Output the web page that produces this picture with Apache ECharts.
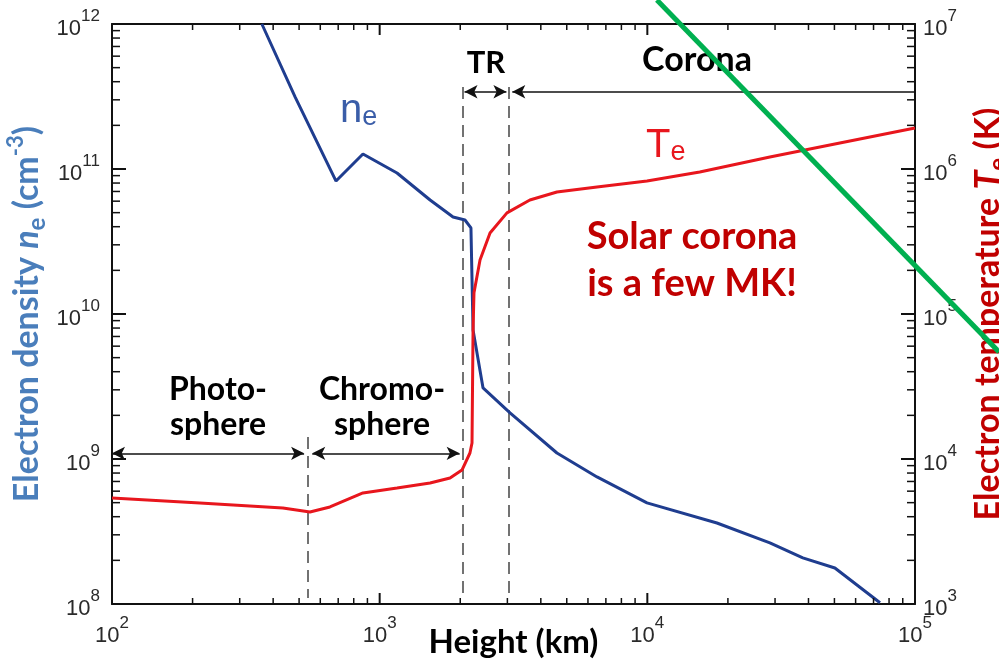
<!DOCTYPE html>
<html><head><meta charset="utf-8">
<script src="https://cdn.jsdelivr.net/npm/echarts@6/dist/echarts.min.js"></script>
<style>html,body{margin:0;padding:0;background:#fff;overflow:hidden}#c{width:999px;height:667px}</style>
</head><body><div id="c"></div>
<script>
// ---- data (height in km) ----
const heightNe  = [363, 483, 687, 866, 1161, 1543, 1880, 2083, 2193, 2233, 2433, 3069, 4595, 6486, 9970, 18200, 28700, 38100, 50200, 74000];
const densityNe = [1.0e12, 3.14e11, 8.26e10, 1.27e11, 9.38e10, 6.11e10, 4.67e10, 4.45e10, 3.92e10, 7.76e9, 3.09e9, 2.08e9, 1.10e9, 7.52e8, 4.98e8, 3.62e8, 2.64e8, 2.08e8, 1.77e8, 1.02e8];
const heightTe  = [100, 213, 435, 549, 652, 866, 1161, 1543, 1832, 2030, 2174, 2213, 2233, 2251, 2371, 2584, 2989, 3641, 4595, 6486, 9970, 15700, 28700, 52400, 100000];
const tempTe    = [5380, 4970, 4600, 4310, 4670, 5830, 6310, 6830, 7390, 8390, 11000, 12900, 77600, 1.40e5, 2.36e5, 3.62e5, 4.98e5, 6.11e5, 6.94e5, 7.52e5, 8.26e5, 9.53e5, 1.21e6, 1.51e6, 1.92e6];
// region boundaries (km) and their dashed-line extents (in n_e units)
const boundaryHeights = [540, 2050, 3040];
const boundaryTop     = [1.42e9, 3.68e11, 3.68e11];
const boundaryBottom  = 1.1e8;
// region arrows: [fromHeight, toHeight], level in n_e units
const photoArrow  = [100, 522];
const chromoArrow = [560, 1990];
const trArrow     = [2075, 2975];
const coronaArrow = [3130, 100000];
const lowArrowLevel  = 1.094e9;
const highArrowLevel = 3.41e11;
// green overlay stroke: two points on it (height, n_e); extended to the picture edges
const greenX = [13270, 100000];
const greenY = [1e12, 2.16e10];
// tick decades
const xDecades = [2, 3, 4, 5];
const yLeftDecades = [8, 9, 10, 11, 12];
const yRightDecades = [3, 4, 5, 6, 7];

const zip = (a, b) => a.map((v, i) => [v, b[i]]);
const TICKC = '#111';
const supLabel = v => '{b|10}{s|' + Math.round(Math.log10(v)) + '}';
const labelRich = {
  b: { fontSize: 22, fontFamily: 'Liberation Sans', color: '#2a2a2a', lineHeight: 32, verticalAlign: 'bottom' },
  s: { fontSize: 17, fontFamily: 'Liberation Sans', color: '#2a2a2a', lineHeight: 17, verticalAlign: 'top' }
};
function mainAxis(pos, min, max, label) {
  return {
    type: 'log', logBase: 10, min: min, max: max, position: pos,
    axisLine: { show: true, onZero: false, lineStyle: { color: TICKC, width: 2 } },
    axisTick: { show: false }, minorTick: { show: false },
    splitLine: { show: false }, minorSplitLine: { show: false },
    axisLabel: label ? Object.assign({ formatter: supLabel, rich: labelRich }, label) : { show: false },
    nameMoveOverlap: false
  };
}
const titleFont = { fontFamily: 'Lato', fontWeight: 'bold' };
function titleRich(color) {
  return {
    t:  Object.assign({ fontSize: 34, color: color, lineHeight: 44 }, titleFont),
    i:  Object.assign({ fontSize: 34, color: color, lineHeight: 44, fontStyle: 'italic' }, titleFont),
    sb: Object.assign({ fontSize: 24, color: color, lineHeight: 24, verticalAlign: 'bottom' }, titleFont),
    sp: Object.assign({ fontSize: 22, color: color, lineHeight: 22, verticalAlign: 'top' }, titleFont)
  };
}

const dashStyle = { color: '#444', width: 1.5, type: [12, 7] };
const arrowStyle = { color: '#111', width: 1.5, type: 'solid' };
const mlData = [];
boundaryHeights.forEach((h, i) => {
  mlData.push([{ coord: [h, boundaryTop[i]], symbol: 'none', lineStyle: dashStyle }, { coord: [h, boundaryBottom], symbol: 'none' }]);
});
function arrowItem(r, lvl, both) {
  return [{ coord: [r[0], lvl], symbol: 'arrow', symbolSize: [10, 13], lineStyle: arrowStyle },
          { coord: [r[1], lvl], symbol: both ? 'arrow' : 'none', symbolSize: [10, 13] }];
}
mlData.push(arrowItem(photoArrow, lowArrowLevel, true));
mlData.push(arrowItem(chromoArrow, lowArrowLevel, true));
mlData.push(arrowItem(trArrow, highArrowLevel, true));
mlData.push(arrowItem(coronaArrow, highArrowLevel, false));

const boldTxt = (text, x, y, size, color) => ({
  type: 'text', x: x, y: y, z: 50, silent: true,
  style: { text: text, fill: color || '#000', font: 'bold ' + size + 'px Lato', align: 'center', verticalAlign: 'middle' }
});
const subTxt = (main, sub, x, y, color) => ({
  type: 'text', x: x, y: y, z: 50, silent: true,
  style: { text: '{n|' + main + '}{e|' + sub + '}',
    rich: { n: { fontSize: 40, fontFamily: 'Liberation Sans', fill: color, color: color, lineHeight: 40, verticalAlign: 'top' },
            e: { fontSize: 27, fontFamily: 'Liberation Sans', fill: color, color: color, lineHeight: 27, verticalAlign: 'bottom' } },
    align: 'left', verticalAlign: 'bottom' }
});
const texts = [
  boldTxt('Photo-', 218, 390, 32),
  boldTxt('sphere', 218, 425, 32),
  boldTxt('Chromo-', 382, 390, 32),
  boldTxt('sphere', 382, 425, 32),
  boldTxt('TR', 486, 63, 31),
  boldTxt('Corona', 697, 60, 34),
  boldTxt('Solar corona', 692, 237, 38, '#c00000'),
  boldTxt('is a few MK!', 692, 284, 38, '#c00000'),
  subTxt('n', 'e', 340, 131, '#3a5da8'),
  subTxt('T', 'e', 646, 166, '#e8161d')
];

const chart = echarts.init(document.getElementById('c'), null, { renderer: 'canvas' });
chart.setOption({
  animation: false,
  backgroundColor: '#fff',
  grid: { left: 112, right: 84, top: 24, bottom: 63, containLabel: false, outerBoundsMode: 'none' },
  xAxis: [
    Object.assign(mainAxis('bottom', 100, 100000, { margin: 11 }), {
      name: 'Height (km)', nameLocation: 'middle', nameGap: 22,
      nameTextStyle: { fontFamily: 'Lato', fontWeight: 'bold', fontSize: 33, color: '#000' } }),
    mainAxis('top', 100, 100000, null)
  ],
  yAxis: [
    Object.assign(mainAxis('left', 1e8, 1e12, { margin: 12 }), {
      name: '{t|Electron density }{i|n}{sb|e}{t| (cm}{sp|-3}{t|)}', nameLocation: 'middle', nameRotate: 90, nameGap: 63,
      nameTextStyle: { rich: titleRich('#4a7ebb'), fontSize: 34, fontFamily: 'Lato', fontWeight: 'bold', color: '#4a7ebb' } }),
    Object.assign(mainAxis('right', 1e3, 1e7, { margin: 8 }), {
      name: '{t|Electron temperature }{i|T}{sb|e}{t| (K)}', nameLocation: 'middle', nameRotate: 90, nameGap: 51,
      nameTextStyle: { rich: titleRich('#c00000'), fontSize: 34, fontFamily: 'Lato', fontWeight: 'bold', color: '#c00000' } })
  ],
  series: [
    { name: 'n_e', type: 'line', xAxisIndex: 0, yAxisIndex: 0, data: zip(heightNe, densityNe),
      symbol: 'none', lineStyle: { color: '#1f3d8f', width: 3 }, itemStyle: { color: '#1f3d8f' }, z: 5,
      markLine: { silent: true, animation: false, label: { show: false }, emphasis: { disabled: true }, data: mlData } },
    { name: 'T_e', type: 'line', xAxisIndex: 0, yAxisIndex: 1, data: zip(heightTe, tempTe),
      symbol: 'none', lineStyle: { color: '#e8161d', width: 3 }, itemStyle: { color: '#e8161d' }, z: 6 }
  ]
});

// ---- positions through the axes (cartesian finder, which is known to work) ----
const toPxL = (x, y) => chart.convertToPixel({ xAxisIndex: 0, yAxisIndex: 0 }, [x, y]);
const toPxR = (x, y) => chart.convertToPixel({ xAxisIndex: 0, yAxisIndex: 1 }, [x, y]);
const px  = v => toPxL(v, 1e10)[0];
const pyL = v => toPxL(1000, v)[1];
const pyR = v => toPxR(1000, v)[1];
const xL = px(100), xR = px(100000), yB = pyL(1e8), yT = pyL(1e12);

// inside log ticks on all four sides
const tickEls = [];
const seg = (x1, y1, x2, y2, w) => tickEls.push({ type: 'line', z: 40, silent: true,
  shape: { x1: x1, y1: y1, x2: x2, y2: y2 }, style: { stroke: TICKC, lineWidth: w } });
function decadeTicks(decs, cb) {
  decs.forEach((d, i) => {
    cb(Math.pow(10, d), true);
    if (i < decs.length - 1) for (let k = 2; k <= 9; k++) cb(k * Math.pow(10, d), false);
  });
}
decadeTicks(xDecades, (v, major) => {
  const x = px(v), L = major ? 11 : 6, w = major ? 2 : 1.5;
  seg(x, yB, x, yB - L, w); seg(x, yT, x, yT + L, w);
});
decadeTicks(yLeftDecades, (v, major) => {
  const y = pyL(v), L = major ? 14 : 8, w = major ? 2 : 1.5;
  seg(xL, y, xL + L, y, w);
});
decadeTicks(yRightDecades, (v, major) => {
  const y = pyR(v), L = major ? 14 : 8, w = major ? 2 : 1.5;
  seg(xR, y, xR - L, y, w);
});

// green overlay stroke extended to the picture border
const gp = zip(greenX, greenY).map(p => toPxL(p[0], p[1]));
const slope = (gp[1][1] - gp[0][1]) / (gp[1][0] - gp[0][0]);
const gStart = [gp[0][0] - gp[0][1] / slope, 0];
const gEnd = [999, gp[1][1] + (999 - gp[1][0]) * slope];
const greenEl = { type: 'line', z: 100, silent: true,
  shape: { x1: gStart[0], y1: gStart[1], x2: gEnd[0], y2: gEnd[1] },
  style: { stroke: '#00b050', lineWidth: 5 } };

chart.setOption({ graphic: tickEls.concat(texts, [greenEl]) });
</script></body></html>
